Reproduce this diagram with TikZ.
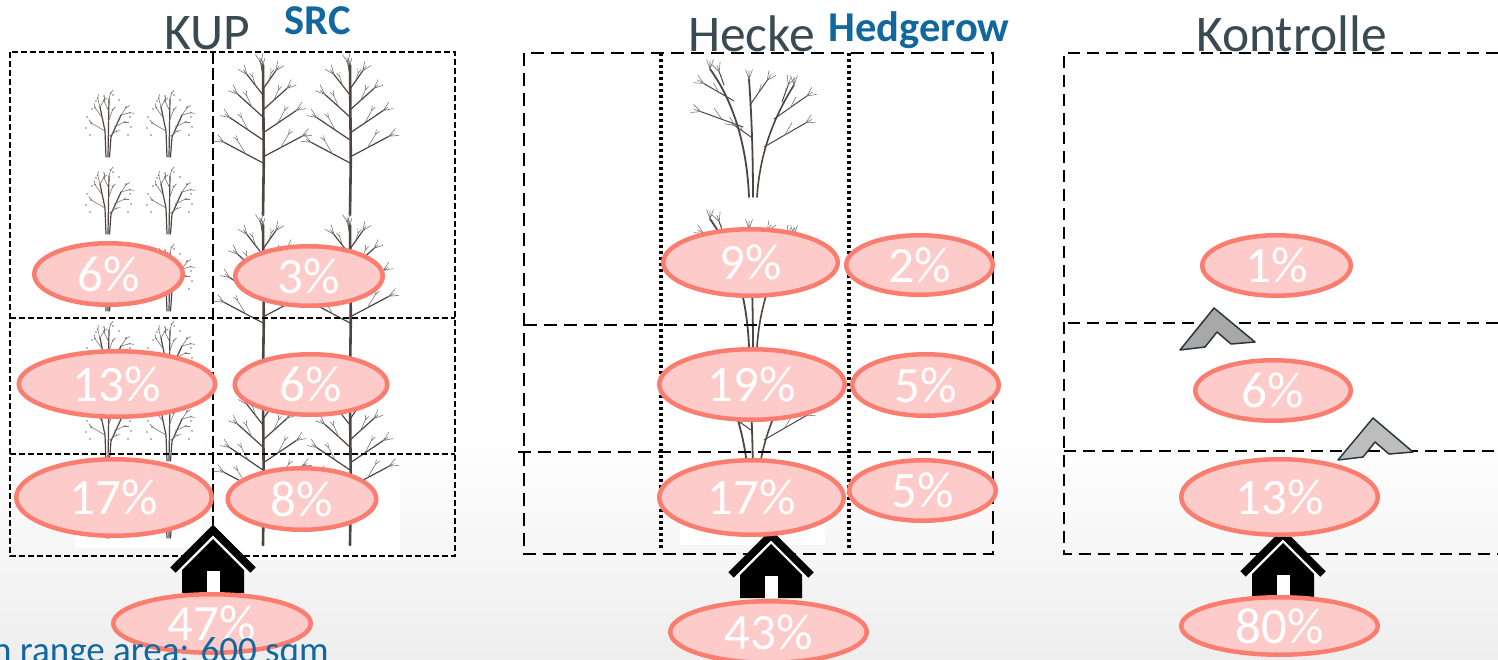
\documentclass[tikz,border=0pt]{standalone}
\usepackage{fontspec}
\setmainfont{Carlito}
\usetikzlibrary{shapes.geometric}

\definecolor{pinkfill}{RGB}{253,203,201}
\definecolor{salmon}{RGB}{250,125,112}
\definecolor{titlegray}{RGB}{58,74,82}
\definecolor{srcblue}{RGB}{17,104,158}
\definecolor{barkc}{RGB}{78,68,68}
\definecolor{twigc}{RGB}{125,117,117}
\definecolor{bgbottom}{RGB}{238,238,238}
\definecolor{chevA}{RGB}{168,168,168}
\definecolor{chevB}{RGB}{189,189,189}
\definecolor{chevline}{RGB}{40,56,62}

\begin{document}
\begin{tikzpicture}[x=1pt,y=-1pt,
  pct/.style={ellipse, draw=salmon, line width=4.5pt, fill=pinkfill, text=white,
              inner sep=0pt, font=\fontsize{51}{51}\selectfont},
  title/.style={inner sep=0pt, anchor=base, text=titlegray, font=\fontsize{51.5}{51.5}\selectfont},
  subtitle/.style={inner sep=0pt, anchor=base, text=srcblue, font=\bfseries\fontsize{42.5}{42.5}\selectfont},
  kupbox/.style={draw=black, dash pattern=on 6pt off 3pt, line width=1.5pt},
  kupmid/.style={draw=black, dash pattern=on 12pt off 4pt, line width=2pt},
  hedgebox/.style={draw=black, dash pattern=on 13pt off 7pt, line width=1.8pt},
  dotline/.style={draw=black, dash pattern=on 3pt off 3pt, line width=3.5pt},
  kontbox/.style={draw=black, dash pattern=on 12pt off 7pt, line width=1.6pt},
  trunk/.style={draw=barkc, line width=2.6pt, line cap=round},
  limb/.style={draw=barkc, line width=1.2pt, line cap=round},
  twig/.style={draw=twigc, line width=0.6pt, line cap=round},
  chevron/.style={draw=chevline, line width=1.5pt, line join=round},
  sapling/.pic={
    \draw[limb] (-1,0) -- (-2,-26) -- (-7,-50);
    \draw[limb] (1,0) -- (1.5,-30) -- (2,-58);
    \draw[limb] (2.5,0) -- (4,-20) -- (14,-42);
    \foreach \px/\py/\ang/\len in {-2/-26/-150/16, -4/-38/-125/14, -7/-50/-105/9,
        -7/-50/-60/8, 1.5/-36/-70/12, 1.7/-46/-115/11, 2/-58/-75/6, 7/-30/-25/12,
        14/-42/-55/9, 14/-42/-15/9, 1/-20/-35/10}{
      \draw[twig] (\px,\py) -- ++(\ang:\len) coordinate (q);
      \fill[twigc] (q) circle (0.9);
      \draw[twig] (q) -- ++({\ang+25}:4);
    }
    \foreach \dx/\dy in {-21/-29,-20/-40,-15/-48,-11/-56,-3/-61,6/-62,12/-57,
        19/-50,23/-40,24/-30,21/-22,-17/-22}{
      \fill[twigc] (\dx,\dy) circle (0.8);
    }
  },
  tall tree/.pic={
    \draw[trunk] (0,0) -- (0.8,-55) -- (0,-150);
    \foreach \hh/\ang/\len in {52/-152/44, 75/-146/40, 98/-138/34, 120/-128/26,
        58/-28/44, 82/-34/40, 105/-42/32, 126/-55/22, 140/-100/12}{
      \draw[limb] (0,-\hh) -- ++(\ang:\len) coordinate (tp);
      \draw[twig] (tp) -- ++({\ang+22}:10) (tp) -- ++({\ang-22}:10) (tp) -- ++(\ang:6);
      \draw[twig] (0,-\hh) ++(\ang:{0.45*\len}) -- ++({(\ang-90)/2}:{0.35*\len}) coordinate (m)
        -- ++({(\ang-90)/2-20}:5) (m) -- ++({(\ang-90)/2+20}:5);
    }
    \draw[twig] (0,-150) -- ++(-75:7) (0,-150) -- ++(-105:7);
  },
  hedge tree/.pic={
    \draw[limb, line width=1.8pt] (-3,0) .. controls (-5,-50) and (-18,-95) .. (-42,-128) coordinate (s1);
    \draw[limb, line width=1.8pt] (1,0) .. controls (1,-50) and (-1,-90) .. (-3,-118) coordinate (s2);
    \draw[limb, line width=1.6pt] (5,0) .. controls (8,-45) and (22,-80) .. (42,-112) coordinate (s3);
    \foreach \px/\py/\ang/\len in {-9/-70/-160/45, -18/-96/-150/35, -28/-112/-110/14,
        -2/-92/-55/30, 12/-50/-30/48, 22/-78/-35/40, 30/-95/-70/18, -1/-60/-145/20}{
      \draw[limb, line width=1pt] (\px,\py) -- ++(\ang:\len) coordinate (q);
      \draw[twig] (q) -- ++({\ang+25}:10) (q) -- ++({\ang-25}:10) (q) -- ++(\ang:7);
      \draw[twig] (\px,\py) ++(\ang:{0.5*\len}) -- ++({(\ang-90)/2}:{0.3*\len});
    }
    \foreach \cc in {s1,s2,s3}{
      \draw[twig] (\cc) -- ++(-70:10) (\cc) -- ++(-110:10) (\cc) -- ++(-90:8);
    }
  },
  house/.pic={
    \fill[white] (-30,0) -- (-30,-20) -- (-43,-23) -- (0,-65) -- (43,-23) -- (30,-20) -- (30,0) -- cycle;
    \fill[black] (-31,0) -- (-31,-23) -- (0,-54) -- (31,-23) -- (31,0) -- cycle;
    \fill[white] (-6.5,0) rectangle (6.5,-22);
    \draw[black, line width=7.5pt, miter limit=10] (-40,-23) -- (0,-63) -- (40,-23);
  }
]
\useasboundingbox (0,0) rectangle (1498,660);

% slide background
\fill[white] (0,0) rectangle (1498,431);
\shade[top color=white, bottom color=bgbottom] (0,430) rectangle (1498,660);

% white backs of the tree drawings
\fill[white] (75,60) rectangle (202,548);
\fill[white] (214,60) rectangle (400,560);
\fill[white] (680,60) rectangle (825,545);

% short rotation coppice: small coppiced shrubs and tall trees
\foreach \yy in {157,234,311,388,461,538}{
  \pic at (107,\yy) {sapling};
  \pic at (168,\yy) {sapling};
}
\foreach \yy in {215,375,545}{
  \pic at (263,\yy) {tall tree};
  \pic at (350,\yy) {tall tree};
}
% hedgerow trees
\foreach \yy in {197,347,490}{
  \pic at (752,\yy) {hedge tree};
}

% KUP plot grid
\draw[kupbox] (10,52) rectangle (455,556);
\draw[kupbox] (10,318) -- (455,318);
\draw[kupbox] (10,454) -- (455,454);
\draw[kupmid] (213,52) -- (213,525);

% hedgerow plot grid
\draw[hedgebox] (524,53) rectangle (993,554);
\draw[hedgebox] (524,325) -- (993,325);
\draw[hedgebox] (518,452) -- (993,452);
\draw[dotline] (661,53) -- (661,550);
\draw[dotline] (849,53) -- (849,550);

% control plot grid
\draw[kontbox] (1498,53) -- (1064,53) -- (1064,554) -- (1498,554);
\draw[kontbox] (1068,323) -- (1498,323);
\draw[kontbox] (1064,451) -- (1498,451);

% headings
\node[title] (kup) at (207,50) {KUP};
\node[subtitle] (src) at (317.5,35) {SRC};
\node[title] (hecke) at (751.5,52) {Hecke};
\node[subtitle] (hedgerow) at (919,42) {Hedgerow};
\node[title] (kontrolle) at (1291.5,52) {Kontrolle};

% homes
\pic at (213,593) {house};
\pic at (771,598) {house};
\pic at (1283,597) {house};

% chevrons in the control plot
\filldraw[chevron, fill=chevA] (1180,350) -- (1214,308) -- (1255,342) -- (1231,344) -- (1217,332) -- (1205,347) -- cycle;
\filldraw[chevron, fill=chevB] (1338,460) -- (1373,418) -- (1413,452) -- (1389,454) -- (1375,442) -- (1363,457) -- cycle;

% shares of locations, KUP
\node[pct, minimum width=148.5, minimum height=61.5] (k6a) at (108.5,274) {6\%};
\node[pct, minimum width=147.5, minimum height=59.5] (k3)  at (309,276) {3\%};
\node[pct, minimum width=196.5, minimum height=65.5] (k13) at (117,384) {13\%};
\node[pct, minimum width=152.5, minimum height=60.5] (k6b) at (311,384.5) {6\%};
\node[pct, minimum width=195.5, minimum height=76.5] (k17) at (114,497.5) {17\%};
\node[pct, minimum width=148.5, minimum height=61.5] (k8)  at (302,499) {8\%};
\node[pct, minimum width=197.5, minimum height=58.5] (k47) at (212,623.5) {47\%};

% shares of locations, hedgerow
\node[pct, minimum width=174.5, minimum height=66.5] (h9)  at (750.5,262.5) {9\%};
\node[pct, minimum width=146.5, minimum height=59.5] (h2)  at (919.5,265) {2\%};
\node[pct, minimum width=185.5, minimum height=70.5] (h19) at (752,384.5) {19\%};
\node[pct, minimum width=146.5, minimum height=61.5] (h5a) at (925.5,385) {5\%};
\node[pct, minimum width=184.5, minimum height=74.5] (h17) at (751.5,497.5) {17\%};
\node[pct, minimum width=146.5, minimum height=60.5] (h5b) at (922.5,490.5) {5\%};
\node[pct, minimum width=196.5, minimum height=61.5] (h43) at (768.5,632) {43\%};

% shares of locations, control
\node[pct, minimum width=148.5, minimum height=60.5] (c1)  at (1276.5,265.5) {1\%};
\node[pct, minimum width=155.5, minimum height=60.5] (c6)  at (1273,390.5) {6\%};
\node[pct, minimum width=196.5, minimum height=75.5] (c13) at (1279.5,497) {13\%};
\node[pct, minimum width=196.5, minimum height=57.5] (c80) at (1279.5,626) {80\%};

% footnote
\node[anchor=base west, inner sep=0pt, text=srcblue, font=\fontsize{37}{40}\selectfont]
  (area) at (-8,662.5) {n range area: 600 sqm};
\end{tikzpicture}
\end{document}
